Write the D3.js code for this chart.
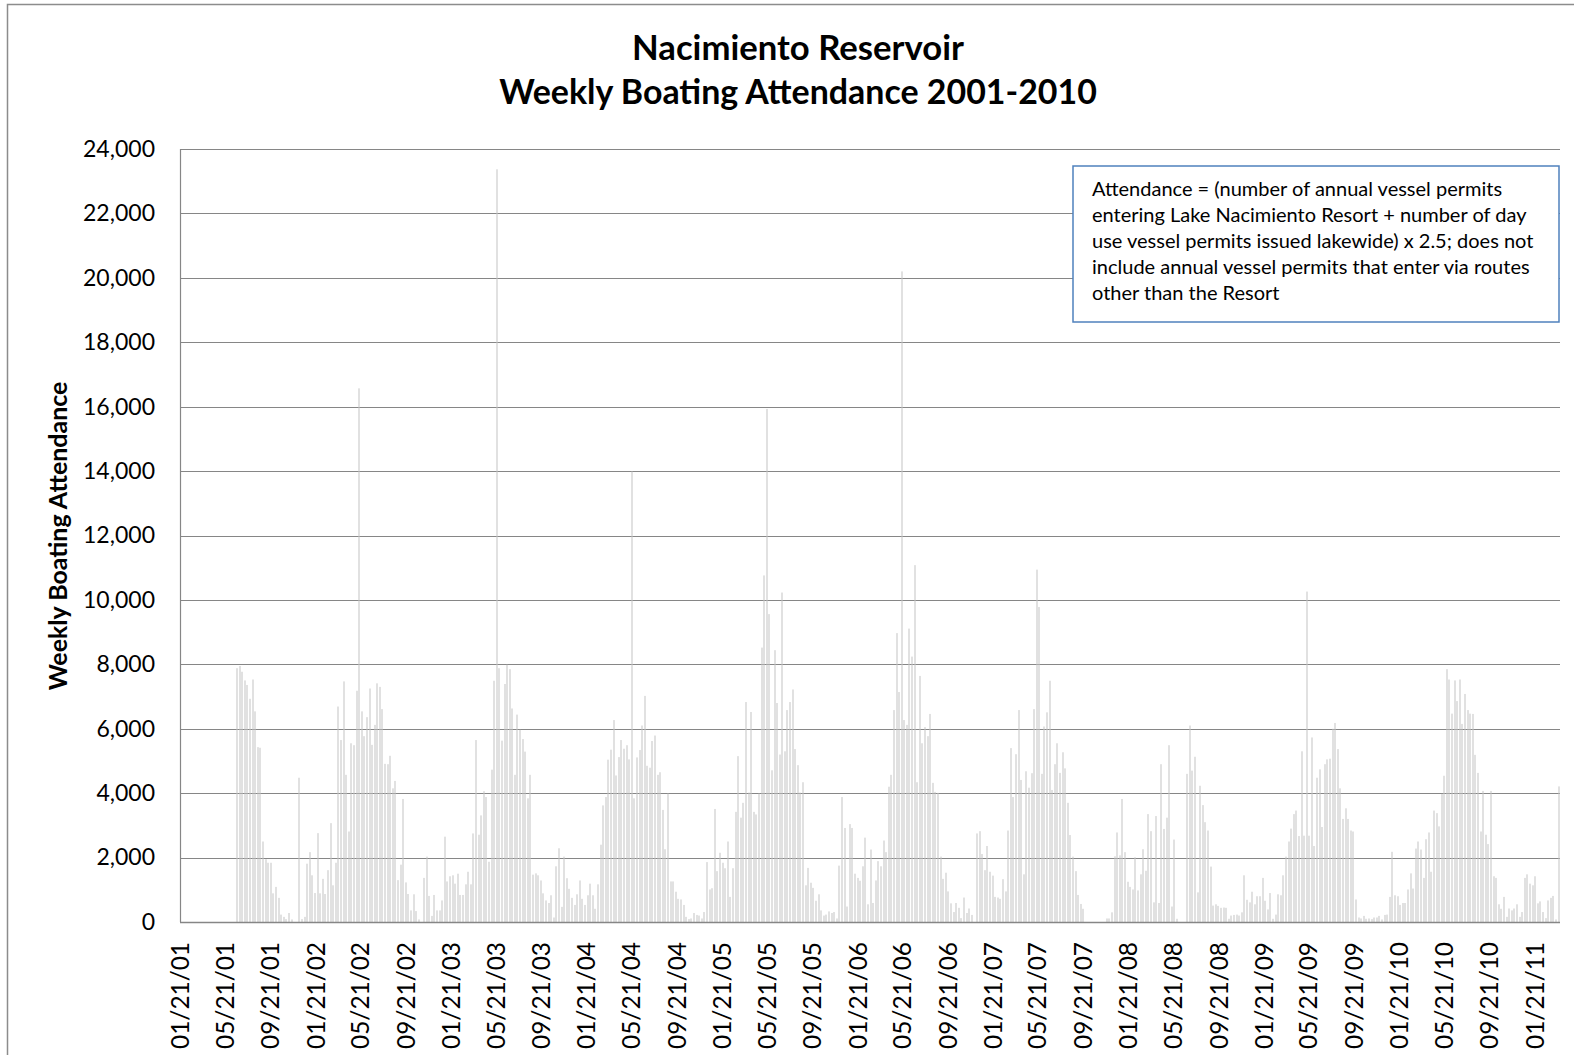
<!DOCTYPE html>
<html>
<head>
<meta charset="utf-8">
<script src="https://cdn.jsdelivr.net/npm/d3@7"></script>
<style>
  body { margin: 0; background: #fff; }
  svg { display: block; }
  text { font-family: Lato, "Open Sans", sans-serif; fill: #000; }
</style>
</head>
<body>
<svg id="chart" width="1574" height="1055"></svg>
<script>
// weekly boating attendance, one array per calendar year (weeks start on Sunday)
const weekStarts = ["2001-06-24", "2002-01-06", "2003-01-05", "2004-01-04", "2005-01-02",
  "2006-01-01", "2007-01-07", "2008-01-06", "2009-01-04", "2010-01-03", "2011-01-02"];

const w2001 = [7880, 7950, 7770, 7500, 7360, 6930, 7530, 6540, 5430, 5410,
  2500, 1950, 1840, 1840, 890, 1090, 750, 230, 160, 90,
  280, 80, 0, 0, 4480, 90, 160, 1810];
const w2002 = [2170, 1450, 900, 2760, 890, 1340, 870, 1610, 3070, 1140,
  1840, 6690, 5650, 7470, 4570, 2810, 5550, 5490, 7180, 16570,
  6540, 5770, 6360, 7250, 5500, 6120, 7410, 7300, 6610, 4910,
  4900, 5160, 4150, 4380, 1300, 1780, 3820, 1230, 870, 360,
  860, 340, 80, 0, 1370, 2030, 810, 190, 840, 360,
  360, 670];
const w2003 = [2650, 1260, 1420, 1450, 1190, 1500, 840, 840, 1170, 1560,
  1170, 2750, 5650, 2710, 3310, 4060, 3880, 1870, 4730, 7490,
  23370, 7880, 5630, 7390, 7990, 7850, 6630, 4570, 6440, 5970,
  5680, 5290, 3840, 4570, 1470, 1510, 1450, 1290, 890, 670,
  590, 830, 140, 1730, 2290, 470, 2030, 1360, 1030, 750,
  530, 860];
const w2004 = [1290, 720, 530, 830, 1190, 830, 410, 1170, 2400, 3620,
  3880, 5040, 5350, 6270, 4550, 5120, 5650, 5380, 5490, 5050,
  13990, 3840, 5110, 5340, 6100, 7020, 4850, 4790, 5620, 5790,
  4570, 4650, 3480, 2260, 3990, 1260, 1260, 940, 720, 700,
  530, 160, 90, 110, 280, 220, 200, 110, 310, 1860,
  1010, 1050];
const w2005 = [3510, 1580, 2150, 1840, 1670, 2500, 780, 1670, 3420, 5150,
  3240, 3700, 6830, 4020, 6520, 3420, 3340, 3990, 8520, 10760,
  15930, 9560, 4710, 8440, 6800, 5200, 10230, 5300, 6580, 6830,
  7220, 5370, 4870, 4020, 4340, 1140, 1680, 1220, 1060, 660,
  860, 360, 200, 230, 330, 280, 310, 110, 1750, 3880,
  2920, 480];
const w2006 = [3040, 2920, 1500, 1370, 1280, 1730, 2620, 550, 2250, 590,
  1290, 1890, 1730, 2530, 2170, 4200, 4570, 6580, 8970, 7140,
  20200, 6270, 6120, 9110, 8240, 11080, 4340, 7640, 5550, 6050,
  5770, 6460, 4320, 4040, 4010, 2030, 1340, 1530, 950, 580,
  310, 590, 440, 120, 760, 280, 420, 220, 0, 2750,
  2820, 2110, 1610];
const w2007 = [2360, 1560, 1440, 780, 760, 720, 1330, 950, 2840, 5400,
  3880, 5210, 6580, 4410, 1480, 4680, 4170, 4620, 6610, 10940,
  9780, 4600, 6070, 6510, 7490, 4100, 4900, 5550, 4630, 5270,
  4770, 3700, 2700, 2030, 1580, 840, 560, 410, 0, 0,
  0, 0, 0, 0, 0, 0, 110, 110, 300, 2040,
  2780, 2070];
const w2008 = [3820, 2170, 1250, 1090, 1010, 2010, 980, 1480, 2260, 1590,
  3350, 2820, 610, 3290, 590, 4900, 2890, 3240, 5490, 480,
  2560, 100, 0, 0, 0, 4600, 6100, 4700, 5130, 920,
  4230, 3630, 3100, 2840, 1720, 510, 550, 500, 440, 450,
  440, 100, 200, 220, 230, 200, 300, 1450, 690, 610,
  940, 550];
const w2009 = [800, 800, 1370, 660, 390, 900, 100, 230, 860, 830,
  1450, 2030, 2500, 2900, 3350, 3460, 2670, 5300, 2680, 10260,
  2680, 5730, 2360, 4480, 4740, 2950, 4900, 5050, 5070, 6000,
  6180, 5370, 4150, 3200, 3530, 3200, 2840, 2810, 700, 140,
  110, 190, 100, 110, 90, 140, 140, 190, 80, 220,
  230, 780];
const w2010 = [2180, 830, 800, 530, 590, 590, 1010, 1510, 1040, 2280,
  2500, 2250, 1370, 2570, 2780, 1560, 3460, 3380, 2970, 3980,
  4540, 7850, 7530, 6470, 7500, 6860, 7530, 6150, 7080, 6580,
  6470, 6460, 5190, 4630, 2810, 4070, 2710, 2420, 4070, 1420,
  1370, 550, 410, 780, 160, 420, 360, 420, 550, 160,
  310, 1370];
const w2011 = [1480, 1190, 1140, 1420, 580, 640, 310, 120, 670, 750, 810, 80, 4210];

const yearValues = [w2001, w2002, w2003, w2004, w2005, w2006, w2007, w2008, w2009, w2010, w2011];

const tickLabels = ["01/21/01", "05/21/01", "09/21/01", "01/21/02", "05/21/02", "09/21/02",
  "01/21/03", "05/21/03", "09/21/03", "01/21/04", "05/21/04", "09/21/04",
  "01/21/05", "05/21/05", "09/21/05", "01/21/06", "05/21/06", "09/21/06",
  "01/21/07", "05/21/07", "09/21/07", "01/21/08", "05/21/08", "09/21/08",
  "01/21/09", "05/21/09", "09/21/09", "01/21/10", "05/21/10", "09/21/10", "01/21/11"];
const yTicks = [0, 2000, 4000, 6000, 8000, 10000, 12000, 14000, 16000, 18000, 20000, 22000, 24000];

const noteLines = [
  "Attendance = (number of annual vessel permits",
  "entering Lake Nacimiento Resort + number of day",
  "use vessel permits issued lakewide) x 2.5; does not",
  "include annual vessel permits that enter via routes",
  "other than the Resort"
];

const parseDay = d3.timeParse("%Y-%m-%d");
const parseTick = d3.timeParse("%m/%d/%y");

const data = [];
yearValues.forEach((vals, k) => {
  const s = parseDay(weekStarts[k]);
  vals.forEach((v, i) => data.push({ date: d3.timeDay.offset(s, 7 * i), value: v }));
});

const margin = { left: 180, right: 14, top: 149, bottom: 133 };
const W = 1574, H = 1055;

const svg = d3.select("#chart");

// chart area border
svg.append("rect")
  .attr("x", 7.5).attr("y", 4.5)
  .attr("width", 1600).attr("height", 1100)
  .attr("fill", "none").attr("stroke", "#8c8c8c").attr("stroke-width", 1.5);

const x = d3.scaleTime()
  .domain([parseDay("2001-01-21"), parseDay("2011-03-31")])
  .range([margin.left, W - margin.right]);
const y = d3.scaleLinear()
  .domain([0, 24000])
  .range([H - margin.bottom, margin.top]);

function fitFont(sel, target) {
  const w = sel.node().getComputedTextLength();
  const fs = parseFloat(sel.attr("font-size"));
  const nf = fs * target / w;
  sel.attr("font-size", nf);
  return nf;
}

// gridlines
svg.append("g")
  .selectAll("line").data(yTicks.filter(d => d > 0)).enter().append("line")
  .attr("x1", margin.left).attr("x2", W - margin.right)
  .attr("y1", d => Math.round(y(d)) + 0.5).attr("y2", d => Math.round(y(d)) + 0.5)
  .attr("stroke", "#868686").attr("stroke-width", 1);

// bars
svg.append("g")
  .selectAll("rect").data(data.filter(d => d.value > 0)).enter().append("rect")
  .attr("x", d => Math.round(x(d.date)) - 0.5)
  .attr("width", 1)
  .attr("y", d => y(d.value))
  .attr("height", d => y(0) - y(d.value))
  .attr("fill", "#c4c4c4");

// axes lines
svg.append("line")
  .attr("x1", margin.left + 0.5).attr("x2", margin.left + 0.5)
  .attr("y1", margin.top).attr("y2", y(0))
  .attr("stroke", "#868686").attr("stroke-width", 1.2);
svg.append("line")
  .attr("x1", margin.left).attr("x2", W - margin.right)
  .attr("y1", Math.round(y(0)) + 0.5).attr("y2", Math.round(y(0)) + 0.5)
  .attr("stroke", "#868686").attr("stroke-width", 1.5);

// y tick labels
const yAxis = svg.append("g").attr("transform", `translate(${margin.left - 25},0)`)
  .call(d3.axisLeft(y).tickValues(yTicks).tickFormat(d3.format(",")).tickSize(0).tickPadding(0));
yAxis.select(".domain").remove();
yAxis.selectAll("text").attr("font-size", 24).attr("font-family", "Lato, sans-serif").attr("fill", "#000");
const yfs = fitFont(yAxis.select(".tick:last-of-type text"), 72);
yAxis.selectAll("text").attr("font-size", yfs);

// x tick labels
const xAxis = svg.append("g").attr("transform", `translate(0,${y(0) + 20})`)
  .call(d3.axisBottom(x).tickValues(tickLabels.map(parseTick))
    .tickFormat(d3.timeFormat("%m/%d/%y")).tickSize(0).tickPadding(0));
xAxis.select(".domain").remove();
xAxis.selectAll("text")
  .attr("font-size", 24).attr("font-family", "Lato, sans-serif").attr("fill", "#000")
  .attr("transform", "rotate(-90)")
  .attr("text-anchor", "end")
  .attr("x", 0).attr("y", 0).attr("dy", "0.36em");
const xfs = fitFont(xAxis.select(".tick text"), 107);
xAxis.selectAll("text").attr("font-size", xfs);

// title
const t1 = svg.append("text").attr("x", 798).attr("y", 60)
  .attr("text-anchor", "middle").attr("font-weight", "bold").attr("font-size", 32)
  .text("Nacimiento Reservoir");
fitFont(t1, 332);
const t2 = svg.append("text").attr("x", 798).attr("y", 104)
  .attr("text-anchor", "middle").attr("font-weight", "bold").attr("font-size", 32)
  .text("Weekly Boating Attendance 2001-2010");
fitFont(t2, 598);

// y axis title
const yt = svg.append("text")
  .attr("transform", "translate(67,536) rotate(-90)")
  .attr("text-anchor", "middle").attr("font-weight", "bold").attr("font-size", 22)
  .text("Weekly Boating Attendance");
fitFont(yt, 309);

// note box
svg.append("rect")
  .attr("x", 1073).attr("y", 166).attr("width", 486).attr("height", 156)
  .attr("fill", "#fff").attr("stroke", "#4f81bd").attr("stroke-width", 1.5);
const note = svg.append("g");
note.selectAll("text").data(noteLines).enter().append("text")
  .attr("x", 1092).attr("y", (d, i) => 196 + i * 26.1)
  .attr("font-size", 17)
  .text(d => d);
const nfs = fitFont(note.select("text:nth-child(4)"), 438);
note.selectAll("text").attr("font-size", nfs);
</script>
</body>
</html>
